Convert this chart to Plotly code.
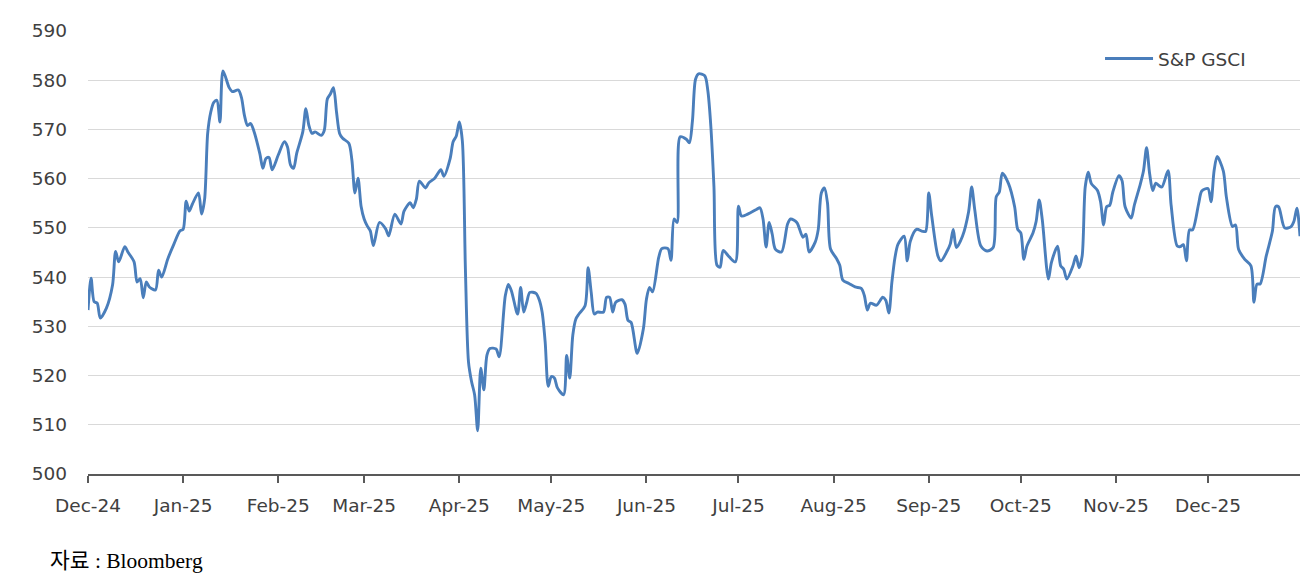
import plotly.graph_objects as go

dates = [
    "2024-12-01", "2024-12-02", "2024-12-03", "2024-12-04", "2024-12-05", "2024-12-07", "2024-12-09",
    "2024-12-10", "2024-12-11", "2024-12-13", "2024-12-14", "2024-12-16", "2024-12-17", "2024-12-18",
    "2024-12-19", "2024-12-20", "2024-12-21", "2024-12-23", "2024-12-24", "2024-12-25", "2024-12-27",
    "2024-12-29", "2024-12-31",
    "2025-01-01", "2025-01-02", "2025-01-03", "2025-01-04", "2025-01-06", "2025-01-07", "2025-01-08",
    "2025-01-09", "2025-01-10", "2025-01-11", "2025-01-12", "2025-01-13", "2025-01-14", "2025-01-16",
    "2025-01-17", "2025-01-19", "2025-01-20", "2025-01-21", "2025-01-22", "2025-01-23", "2025-01-24",
    "2025-01-26", "2025-01-27", "2025-01-28", "2025-01-29", "2025-01-30",
    "2025-02-01", "2025-02-03", "2025-02-04", "2025-02-05", "2025-02-06", "2025-02-07", "2025-02-09",
    "2025-02-10", "2025-02-11", "2025-02-12", "2025-02-13", "2025-02-15", "2025-02-16", "2025-02-17",
    "2025-02-18", "2025-02-19", "2025-02-20", "2025-02-21", "2025-02-22", "2025-02-24", "2025-02-25",
    "2025-02-26", "2025-02-27", "2025-02-28",
    "2025-03-01", "2025-03-02", "2025-03-03", "2025-03-04", "2025-03-06", "2025-03-08", "2025-03-09",
    "2025-03-11", "2025-03-13", "2025-03-14", "2025-03-16", "2025-03-17", "2025-03-18", "2025-03-19",
    "2025-03-21", "2025-03-22", "2025-03-24", "2025-03-26", "2025-03-27", "2025-03-29", "2025-03-30",
    "2025-03-31",
    "2025-04-01", "2025-04-02", "2025-04-03", "2025-04-04", "2025-04-05", "2025-04-06", "2025-04-07",
    "2025-04-08", "2025-04-09", "2025-04-10", "2025-04-11", "2025-04-13", "2025-04-14", "2025-04-16",
    "2025-04-17", "2025-04-18", "2025-04-20", "2025-04-21", "2025-04-22", "2025-04-23", "2025-04-24",
    "2025-04-26", "2025-04-27", "2025-04-28", "2025-04-29", "2025-04-30",
    "2025-05-01", "2025-05-02", "2025-05-03", "2025-05-05", "2025-05-06", "2025-05-07", "2025-05-08",
    "2025-05-09", "2025-05-10", "2025-05-12", "2025-05-13", "2025-05-14", "2025-05-15", "2025-05-16",
    "2025-05-18", "2025-05-19", "2025-05-20", "2025-05-21", "2025-05-22", "2025-05-24", "2025-05-25",
    "2025-05-26", "2025-05-27", "2025-05-29", "2025-05-31",
    "2025-06-01", "2025-06-02", "2025-06-03", "2025-06-05", "2025-06-06", "2025-06-08", "2025-06-09",
    "2025-06-10", "2025-06-11", "2025-06-12", "2025-06-14", "2025-06-15", "2025-06-16", "2025-06-17",
    "2025-06-18", "2025-06-20", "2025-06-21", "2025-06-22", "2025-06-23", "2025-06-24", "2025-06-25",
    "2025-06-26", "2025-06-28", "2025-06-30",
    "2025-07-01", "2025-07-02", "2025-07-04", "2025-07-07", "2025-07-08", "2025-07-09", "2025-07-10",
    "2025-07-11", "2025-07-12", "2025-07-13", "2025-07-15", "2025-07-17", "2025-07-18", "2025-07-20",
    "2025-07-22", "2025-07-23", "2025-07-24", "2025-07-26", "2025-07-27", "2025-07-28", "2025-07-29",
    "2025-07-30", "2025-07-31",
    "2025-08-02", "2025-08-03", "2025-08-04", "2025-08-06", "2025-08-08", "2025-08-10", "2025-08-11",
    "2025-08-12", "2025-08-13", "2025-08-15", "2025-08-17", "2025-08-18", "2025-08-19", "2025-08-20",
    "2025-08-21", "2025-08-22", "2025-08-24", "2025-08-25", "2025-08-26", "2025-08-28", "2025-08-30",
    "2025-08-31",
    "2025-09-01", "2025-09-02", "2025-09-04", "2025-09-05", "2025-09-07", "2025-09-08", "2025-09-09",
    "2025-09-10", "2025-09-12", "2025-09-14", "2025-09-15", "2025-09-16", "2025-09-18", "2025-09-20",
    "2025-09-22", "2025-09-23", "2025-09-24", "2025-09-25", "2025-09-27", "2025-09-29", "2025-09-30",
    "2025-10-01", "2025-10-02", "2025-10-03", "2025-10-05", "2025-10-06", "2025-10-07", "2025-10-08",
    "2025-10-10", "2025-10-11", "2025-10-13", "2025-10-14", "2025-10-15", "2025-10-16", "2025-10-18",
    "2025-10-19", "2025-10-20", "2025-10-21", "2025-10-22", "2025-10-23", "2025-10-24", "2025-10-26",
    "2025-10-27", "2025-10-28", "2025-10-29", "2025-10-30", "2025-10-31",
    "2025-11-02", "2025-11-03", "2025-11-04", "2025-11-06", "2025-11-07", "2025-11-09", "2025-11-10",
    "2025-11-11", "2025-11-12", "2025-11-13", "2025-11-14", "2025-11-15", "2025-11-16", "2025-11-18",
    "2025-11-19", "2025-11-21", "2025-11-22", "2025-11-23", "2025-11-24", "2025-11-25", "2025-11-26",
    "2025-11-28", "2025-11-29",
    "2025-12-01", "2025-12-02", "2025-12-03", "2025-12-04", "2025-12-06", "2025-12-07", "2025-12-09",
    "2025-12-10", "2025-12-11", "2025-12-13", "2025-12-15", "2025-12-16", "2025-12-17", "2025-12-18",
    "2025-12-20", "2025-12-22", "2025-12-23", "2025-12-24", "2025-12-26", "2025-12-28", "2025-12-29",
    "2025-12-30", "2025-12-31",
]

gsci = [
    533.3, 539.8, 535.0, 534.7, 531.7, 533.7, 538.4,
    545.2, 543.1, 546.2, 545.1, 543.1, 539.0, 539.7,
    535.8, 539.0, 538.0, 537.4, 541.4, 540.0, 543.7,
    546.7, 549.4,
    549.7, 555.4, 553.4, 554.8, 557.1, 552.8, 555.8,
    569.2, 573.5, 575.5, 575.9, 571.5, 581.9, 578.5,
    577.7, 578.0, 576.5, 572.8, 570.8, 571.2, 569.8,
    565.1, 562.1, 564.1, 564.3, 561.8,
    564.8, 567.5, 566.5, 562.8, 562.1, 565.1, 569.5,
    574.2, 570.8, 569.2, 569.5, 568.8, 569.8, 576.2,
    577.2, 578.5, 573.5, 569.2, 568.2, 567.2, 563.8,
    557.1, 560.1, 554.4,
    551.8, 550.4, 549.4, 546.4, 551.1, 549.8, 548.4,
    552.8, 550.8, 553.4, 555.1, 554.1, 555.8, 559.5,
    558.1, 559.1, 560.1, 561.8, 560.5, 564.0, 567.5,
    568.6,
    571.5, 567.7, 541.6, 522.8, 518.8, 516.1, 508.8,
    521.5, 517.1, 524.1, 525.5, 525.4, 523.8, 536.2,
    538.5, 537.2, 532.5, 537.9, 532.9, 534.9, 536.9,
    536.7, 535.5, 532.9, 526.8, 517.8,
    519.8, 519.5, 517.5, 516.1, 524.1, 519.5, 528.2,
    531.5, 532.5, 534.2, 541.9, 536.9, 532.5, 532.9,
    532.9, 535.9, 535.9, 532.9, 534.9, 535.4, 534.5,
    531.2, 530.8, 524.5, 529.5,
    535.5, 537.9, 537.0, 544.0, 545.8, 545.8, 543.4,
    551.8, 551.1, 568.5, 568.0, 567.3, 571.8, 580.2,
    581.3, 580.9, 577.9, 570.5, 558.4, 542.4, 542.0,
    545.4, 544.1, 543.1,
    554.4, 552.4, 552.8, 553.8, 554.1, 551.8, 546.1,
    551.1, 548.7, 545.7, 545.1, 550.8, 551.8, 551.1,
    548.1, 548.7, 545.1, 547.1, 549.7, 557.1, 558.1,
    555.1, 545.7,
    543.7, 542.4, 539.4, 538.7, 538.0, 537.7, 536.3,
    533.3, 534.7, 534.3, 535.9, 535.3, 532.7, 539.0,
    544.0, 546.7, 548.3, 543.3, 547.3, 549.7, 549.3,
    549.3,
    557.1, 552.3, 544.3, 543.3, 545.3, 546.7, 549.7,
    546.0, 548.3, 553.3, 558.3, 553.7, 546.3, 545.3,
    546.0, 556.3, 557.3, 561.1, 559.0, 554.3, 549.7,
    549.0, 543.6, 546.3, 549.0, 551.3, 555.7, 551.7,
    539.6, 543.0, 546.3, 542.3, 541.6, 539.6, 542.3,
    544.3, 541.9, 544.3, 558.3, 561.3, 559.0, 557.6,
    555.3, 550.6, 554.3, 554.6, 557.3,
    560.6, 559.6, 554.3, 552.0, 554.6, 559.0, 561.6,
    566.3, 561.0, 557.6, 559.1, 558.6, 558.3, 561.6,
    554.6, 546.3, 546.2, 546.6, 543.3, 549.6, 549.6,
    555.0, 557.5,
    558.0, 555.3, 561.6, 564.5, 561.6, 556.3, 550.3,
    550.6, 545.6, 543.6, 542.3, 534.9, 538.6, 538.6,
    544.3, 549.3, 554.3, 554.3, 550.0, 550.2, 551.3,
    554.0, 548.3,
]

series_name = "S&P GSCI"
source_text = "자료 : Bloomberg"
y_ticks = [500, 510, 520, 530, 540, 550, 560, 570, 580, 590]

tick_font = dict(family="DejaVu Sans, Verdana, sans-serif", size=18.5, color="#404040")

fig = go.Figure()
fig.add_trace(go.Scatter(
    x=dates, y=gsci, mode="lines", name=series_name,
    line=dict(color="#4a7ebb", width=2.9, shape="spline", smoothing=0.8),
))

fig.update_layout(
    width=1309, height=583,
    margin=dict(l=80, r=17, t=19, b=117),
    paper_bgcolor="white", plot_bgcolor="white",
    showlegend=True,
    legend=dict(
        x=0.835, y=0.937, xanchor="left", yanchor="middle",
        font=dict(family="DejaVu Sans, Verdana, sans-serif", size=18.5, color="#404040"),
        bgcolor="rgba(0,0,0,0)", itemwidth=48,
    ),
    xaxis=dict(
        type="date",
        range=["2024-12-01", "2025-12-31"],
        tick0="2024-12-01", dtick="M1", tickformat="%b-%y",
        showgrid=False, showline=True, linecolor="#595959", linewidth=1.5,
        ticks="outside", ticklen=7, tickcolor="#595959", tickwidth=1.5,
        tickfont=tick_font, ticklabelstandoff=7,
        zeroline=False,
    ),
    yaxis=dict(
        range=[500, 590], tickvals=y_ticks,
        showgrid=True, gridcolor="#d9d9d9", gridwidth=1.2,
        showline=False, zeroline=False, ticks="",
        tickfont=tick_font, ticklabelstandoff=20,
    ),
    annotations=[dict(
        text=source_text, xref="paper", yref="paper",
        x=-0.033, y=-0.197, xanchor="left", yanchor="middle", showarrow=False,
        font=dict(family="Liberation Serif, Noto Sans CJK KR, serif", size=21.5, color="#000000"),
    )],
)

fig.write_html("out.html")
